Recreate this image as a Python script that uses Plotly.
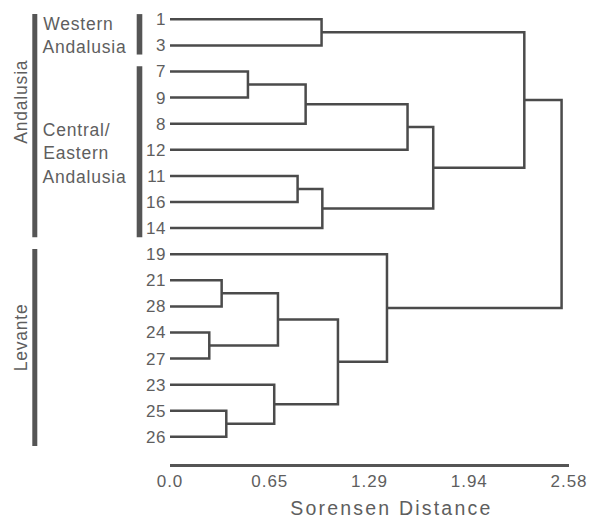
import plotly.graph_objects as go

# ---------------- data ----------------
leaf_labels = ["1", "3", "7", "9", "8", "12", "11", "16", "14",
               "19", "21", "28", "24", "27", "23", "25", "26"]

merge_nodes = ["A", "B", "C", "D", "E", "F", "G", "H",
               "I", "J", "K", "L", "M", "N", "O", "P"]
merge_left = ["1", "7", "B", "C", "11", "E", "D", "A",
              "21", "24", "I", "25", "23", "K", "19", "H"]
merge_right = ["3", "9", "8", "12", "16", "14", "F", "G",
               "28", "27", "J", "26", "L", "M", "N", "O"]
merge_dist = [0.98, 0.504, 0.877, 1.536, 0.825, 0.985, 1.702, 2.291,
              0.334, 0.254, 0.698, 0.364, 0.674, 1.086, 1.403, 2.532]

outer_groups = ["Andalusia", "Levante"]
outer_first = ["1", "19"]
outer_last = ["14", "26"]

inner_groups = [["Western", "Andalusia"], ["Central/", "Eastern", "Andalusia"]]
inner_first = ["1", "7"]
inner_last = ["3", "14"]

x_tickvals = [0.0, 0.645, 1.29, 1.935, 2.58]
x_ticktext = ["0.0", "0.65", "1.29", "1.94", "2.58"]
x_title = "Sorensen Distance"

# ---------------- layout constants ----------------
W, H = 592, 519
ML, MR, MT, MB = 170, 23, 0, 55
PW = W - ML - MR
FONT = "Liberation Sans, Arial, Helvetica, sans-serif"
TXT = "#5e5e5e"
LINE = "#4b4b4b"
BAR = "#555555"


def xp(px):
    return (px - ML) / PW


# ---------------- dendrogram geometry ----------------
pos_y = {lab: i for i, lab in enumerate(leaf_labels)}
pos_x = {lab: 0.0 for lab in leaf_labels}
xs, ys = [], []
for node, l, r, d in zip(merge_nodes, merge_left, merge_right, merge_dist):
    xs += [pos_x[l], d, d, pos_x[r], None]
    ys += [pos_y[l], pos_y[l], pos_y[r], pos_y[r], None]
    pos_x[node] = d
    pos_y[node] = (pos_y[l] + pos_y[r]) / 2

fig = go.Figure()
fig.add_trace(go.Scatter(x=xs, y=ys, mode="lines",
                         line=dict(color=LINE, width=2.5),
                         hoverinfo="skip", showlegend=False))

shapes = []
annotations = []
PAD_TOP, PAD_BOT = 0.2, 0.35

for name, f, l in zip(outer_groups, outer_first, outer_last):
    y0 = pos_y[f] - PAD_TOP
    y1 = pos_y[l] + PAD_BOT
    shapes.append(dict(type="rect", xref="paper", yref="y",
                       x0=xp(32.3), x1=xp(37.3), y0=y0, y1=y1,
                       fillcolor=BAR, line=dict(width=0), layer="above"))

outer_label_y = [3.15, 12.21]
for name, yy in zip(outer_groups, outer_label_y):
    annotations.append(dict(text=name, xref="paper", yref="y",
                            x=xp(20.6), y=yy, xanchor="center",
                            yanchor="middle", textangle=-90,
                            showarrow=False,
                            font=dict(family=FONT, size=17.5, color=TXT)))

for lines, f, l in zip(inner_groups, inner_first, inner_last):
    y0 = pos_y[f] - PAD_TOP
    y1 = pos_y[l] + PAD_BOT
    shapes.append(dict(type="rect", xref="paper", yref="y",
                       x0=xp(136.7), x1=xp(142.3), y0=y0, y1=y1,
                       fillcolor=BAR, line=dict(width=0), layer="above"))
    c = (y0 + y1) / 2 + 0.05
    n = len(lines)
    for i, t in enumerate(lines):
        annotations.append(dict(text=t, xref="paper", yref="y",
                                x=xp(43.8), y=c + (i - (n - 1) / 2) * 0.9,
                                xanchor="left", yanchor="middle",
                                showarrow=False,
                                font=dict(family=FONT, size=17.5, color=TXT)))

# axis title as an annotation (sits right of the plot centre in the original)
annotations.append(dict(text=x_title, xref="paper", yref="paper",
                        x=xp(391), y=-(508 - (H - MB)) / (H - MT - MB),
                        xanchor="center", yanchor="middle", showarrow=False,
                        font=dict(family=FONT, size=19.5, color=TXT),
                        name="xtitle"))

n_leaf = len(leaf_labels)
fig.update_layout(
    width=W, height=H, autosize=False,
    margin=dict(l=ML, r=MR, t=MT, b=MB, pad=0),
    paper_bgcolor="white", plot_bgcolor="white",
    showlegend=False,
    shapes=shapes, annotations=annotations,
    font=dict(family=FONT, color=TXT),
    xaxis=dict(range=[0, 2.58], tickvals=x_tickvals, ticktext=x_ticktext,
               showgrid=False, zeroline=False, showline=True,
               linecolor=BAR, linewidth=2.5, ticks="",
               tickfont=dict(family=FONT, size=17, color=TXT)),
    yaxis=dict(range=[n_leaf - 1 + 1.04, -0.74], tickvals=list(range(n_leaf)),
               ticktext=leaf_labels, showgrid=False, zeroline=False,
               showline=False, ticks="", ticklabelstandoff=3,
               tickfont=dict(family=FONT, size=17, color=TXT)),
)

post = """
var gd = document.getElementById('{plot_id}');
gd.querySelectorAll('.xtick text').forEach(function(t){t.style.letterSpacing='1px';});
gd.querySelectorAll('.ytick text').forEach(function(t){t.style.letterSpacing='0.6px';});
gd.querySelectorAll('.annotation-text').forEach(function(t){
  t.style.letterSpacing = (t.textContent === 'Sorensen Distance') ? '2.2px' : '0.8px';
});
"""

fig.write_html("out.html", post_script=post)
